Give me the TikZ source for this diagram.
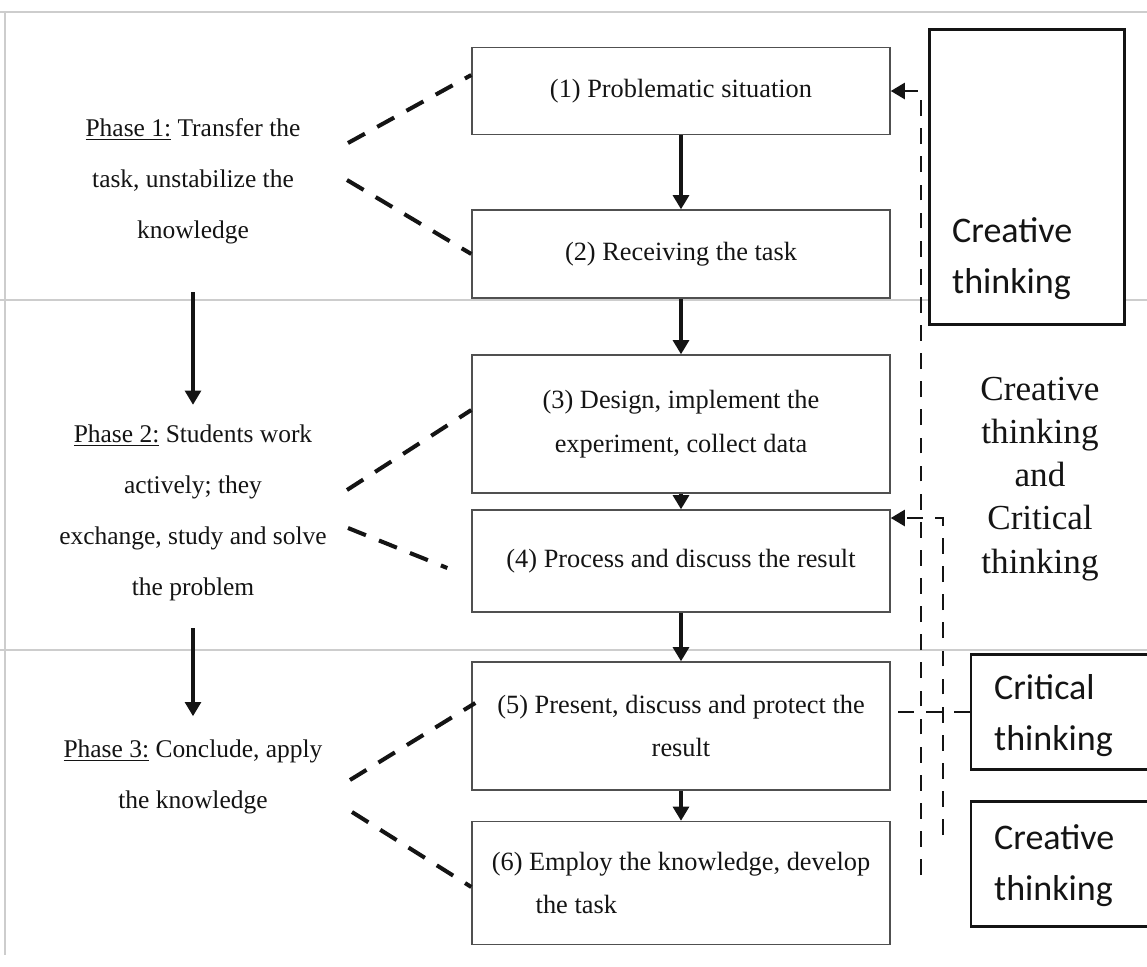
\documentclass[tikz,border=0pt]{standalone}
\definecolor{scan_ink}{RGB}{20, 20, 20}
\definecolor{scan_edge}{RGB}{80, 80, 80}
\definecolor{scan_rule}{RGB}{205, 205, 205}
\usepackage{fontspec}
\setmainfont{Liberation Serif}
\newfontfamily\calfont{Carlito}
\usepackage{tikz}
\usetikzlibrary{arrows.meta, positioning, calc}

\tikzset{
  stagebox/.style={draw=scan_edge, line width=0.8pt, minimum width=418*0.02cm,
    inner sep=8pt, text=scan_ink, font=\fontsize{15}{25}\selectfont},
  phasetext/.style={align=center, text=scan_ink, font=\fontsize{14.5}{29}\selectfont},
  flowarrow/.style={draw=scan_ink, line width=1.8pt, -{Triangle[width=9pt,length=8pt]}},
  phaselink/.style={draw=scan_ink, line width=2.3pt, dash pattern=on 11pt off 8pt},
  backlink/.style={draw=scan_ink, line width=1.6pt, dash pattern=on 9pt off 7pt},
  thinkbox/.style={draw=scan_ink, line width=1.2pt, fill=white},
  thinktext/.style={align=left, text=scan_ink, font=\calfont\fontsize{20.5}{29}\selectfont},
}

\begin{document}
\begin{tikzpicture}[x=0.02cm, y=-0.02cm]
        \useasboundingbox (0,0) rectangle (1147,967);
        \draw[scan_rule, line width=0.6pt] (0,12) -- (1147,12) (0,300) -- (1147,300)
          (0,650) -- (1147,650) (5,12) -- (5,955);

        \foreach \n/\y/\h/\txt in {1/91/87/{(1) Problematic situation},
            2/254/88/{(2) Receiving the task},
            3/424/138/{(3) Design, implement the\\experiment, collect data},
            4/561/102/{(4) Process and discuss the result},
            5/726/128/{(5) Present, discuss and protect the\\result}} {
          \node[stagebox, align=center, minimum height=\h*0.02cm] (p\n) at (681,\y) {\txt};
        }
        \node[stagebox, align=left, minimum height=123*0.02cm] (p6) at (681,883)
          {(6) Employ the knowledge, develop\\\hspace*{25pt}the task};
        \foreach \a/\b in {1/2, 2/3, 3/4, 4/5, 5/6} {
          \draw[flowarrow] (p\a) -- (p\b);
        }

        \node[phasetext] (ph1) at (193,181) {\underline{Phase 1:} Transfer the\\task, unstabilize the\\knowledge};
        \node[phasetext] (ph2) at (193,513) {\underline{Phase 2:} Students work\\actively; they\\exchange, study and solve\\the problem};
        \node[phasetext] (ph3) at (193,777) {\underline{Phase 3:} Conclude, apply\\the knowledge};
        \draw[flowarrow, shorten <=24pt, shorten >=8pt] (ph1) -- (ph2);
        \draw[flowarrow, shorten <=12pt, shorten >=10pt] (ph2) -- (ph3);

        \coordinate (ph1u) at (348,143);
        \coordinate (ph1d) at (347,180);
        \coordinate (ph2u) at (347,490);
        \coordinate (ph2d) at (348,528);
        \coordinate (ph3u) at (350,780);
        \coordinate (ph3d) at (352,812);
        \draw[phaselink] (ph1u) -- ($(p1.west)+(0,-16)$);
        \draw[phaselink] (ph1d) -- (p2.west);
        \draw[phaselink] (ph2u) -- ($(p3.west)+(0,-14)$);
        \draw[phaselink] (ph2d) -- ($(p4.west)+(-24,7)$);
        \draw[phaselink] (ph3u) -- ($(p5.west)+(4,-23)$);
        \draw[phaselink] (ph3d) -- ($(p6.west)+(0,4)$);

        \node[thinkbox, minimum width=195*0.02cm, minimum height=295*0.02cm] (crt1) at (1027,177) {};
        \node[thinktext, anchor=base west] (crt1txt) at (946,293) {Creative\\thinking};
        \node[align=center, text=scan_ink, font=\fontsize{20}{24.5}\selectfont, anchor=base] (crtmid) at (1040,573)
          {Creative\\thinking\\and\\Critical\\thinking};
        \node[thinkbox, minimum width=190*0.02cm, minimum height=115*0.02cm] (crit) at (1066,712) {};
        \node[thinktext, anchor=base west] (crittxt) at (988,750) {Critical\\thinking};
        \node[thinkbox, minimum width=190*0.02cm, minimum height=125*0.02cm] (crt2) at (1066,864) {};
        \node[thinktext, anchor=base west] (crt2txt) at (988,900) {Creative\\thinking};

        \coordinate (fbA) at (921,875);
        \coordinate (fbB) at (943,835);
        \coordinate (fbBtop) at (943,518);
        \draw[backlink, -{Triangle[width=9pt,length=8pt]}] (fbA) -- (fbA |- p1.east) -- (p1.east);
        \draw[backlink, -{Triangle[width=9pt,length=8pt]}] (fbB) -- (fbBtop) -- (p4.east |- fbBtop);
        \draw[backlink] (crit.west) -- (crit.west -| p5.east);
      \end{tikzpicture}
\end{document}
